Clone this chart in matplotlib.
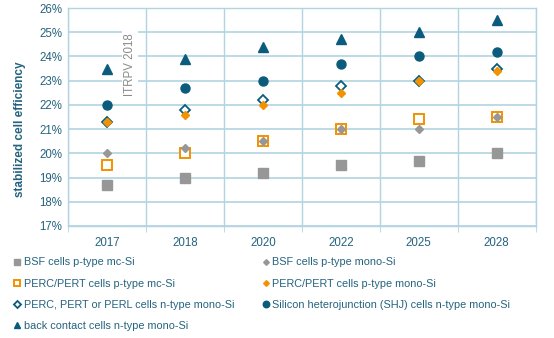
import matplotlib
matplotlib.use("Agg")
import matplotlib.pyplot as plt
import numpy as np

plt.rcParams["font.family"] = ["Liberation Sans", "DejaVu Sans"]

# ── Data (stabilized cell efficiency, %) ──────────────────────────────────────
years = ["2017", "2018", "2020", "2022", "2025", "2028"]

bsf_mc      = [18.7, 19.0, 19.2, 19.5, 19.7, 20.0]
bsf_mono    = [20.0, 20.2, 20.5, 21.0, 21.0, 21.5]
perc_mc     = [19.5, 20.0, 20.5, 21.0, 21.4, 21.5]
perc_mono   = [21.3, 21.6, 22.0, 22.5, 23.0, 23.4]
ntype_mono  = [21.3, 21.8, 22.2, 22.8, 23.0, 23.5]
shj_mono    = [22.0, 22.7, 23.0, 23.7, 24.0, 24.2]
bc_mono     = [23.5, 23.9, 24.4, 24.7, 25.0, 25.5]

# ── Style ─────────────────────────────────────────────────────────────────────
C = dict(teal="#0b5c7c", orange="#f39200", gray="#979797",
         grid="#b2d4e0", text="#24637e", note="#8a8a8a")

fig = plt.figure(figsize=(5.54, 3.38), dpi=100)
ax = fig.add_axes([0.1227, 0.3314, 0.8443, 0.6449])

x = np.arange(len(years))

h_bc, = ax.plot(x, bc_mono, ls="none", marker="^", ms=6.5, color=C["teal"],
                label="back contact cells n-type mono-Si", zorder=3)
h_shj, = ax.plot(x, shj_mono, ls="none", marker="o", ms=6.5, color=C["teal"],
                 label="Silicon heterojunction (SHJ) cells n-type mono-Si", zorder=3)
h_nt, = ax.plot(x, ntype_mono, ls="none", marker="D", ms=5, mfc="white",
                mec=C["teal"], mew=1.3,
                label="PERC, PERT or PERL cells n-type mono-Si", zorder=3)
h_pmc, = ax.plot(x, perc_mc, ls="none", marker="s", ms=6.5, mfc="white",
                 mec=C["orange"], mew=1.4,
                 label="PERC/PERT cells p-type mc-Si", zorder=3)
h_bmc, = ax.plot(x, bsf_mc, ls="none", marker="s", ms=6.5, color=C["gray"],
                 label="BSF cells p-type mc-Si", zorder=3)
h_pmono, = ax.plot(x, perc_mono, ls="none", marker="D", ms=4, color=C["orange"],
                   label="PERC/PERT cells p-type mono-Si", zorder=4)
h_bmono, = ax.plot(x, bsf_mono, ls="none", marker="D", ms=4, color=C["gray"],
                   label="BSF cells p-type mono-Si", zorder=4)

ax.set_xlim(-0.5, len(years) - 0.5)
ax.set_ylim(17, 26)
ax.set_yticks(np.arange(17, 27, 1))
ax.set_yticklabels([f"{v}%" for v in range(17, 27)])
ax.set_xticks(x)
ax.set_xticklabels(years)
ax.set_xticks(np.arange(-0.5, len(years), 1), minor=True)

ax.tick_params(axis="x", which="major", length=0, pad=8, labelsize=8.3, labelcolor=C["text"])
ax.tick_params(axis="x", which="minor", length=4, color=C["grid"])
ax.tick_params(axis="y", length=0, pad=4, labelsize=8.3, labelcolor=C["text"])

ax.grid(True, axis="y", color=C["grid"], lw=1.2, zorder=0)
ax.grid(True, axis="x", which="minor", color=C["grid"], lw=1.0, zorder=0)
ax.set_axisbelow(True)
for sp in ax.spines.values():
    sp.set_color(C["grid"])
    sp.set_linewidth(1.0)

ax.set_ylabel("stabilized cell efficiency", fontsize=8.5, fontweight="bold",
              color=C["text"])
ax.yaxis.set_label_coords(-0.09, 0.443)

ax.text(0.3, 23.65, "ITRPV 2018", rotation=90, fontsize=8.3, color=C["note"],
        ha="center", va="center", zorder=5,
        bbox=dict(facecolor="white", edgecolor="none", pad=1.5))

handles = [h_bmc, h_pmc, h_nt, h_bc, h_bmono, h_pmono, h_shj]
leg = fig.legend(handles=handles, loc="upper left", bbox_to_anchor=(0.018, 0.251),
                 ncol=2, frameon=False, fontsize=7.8, handlelength=0.5,
                 handletextpad=0.35, columnspacing=2.7, labelspacing=1.02,
                 markerscale=0.72, borderaxespad=0)
for t in leg.get_texts():
    t.set_color(C["text"])

fig.savefig("out.png", dpi=100)
